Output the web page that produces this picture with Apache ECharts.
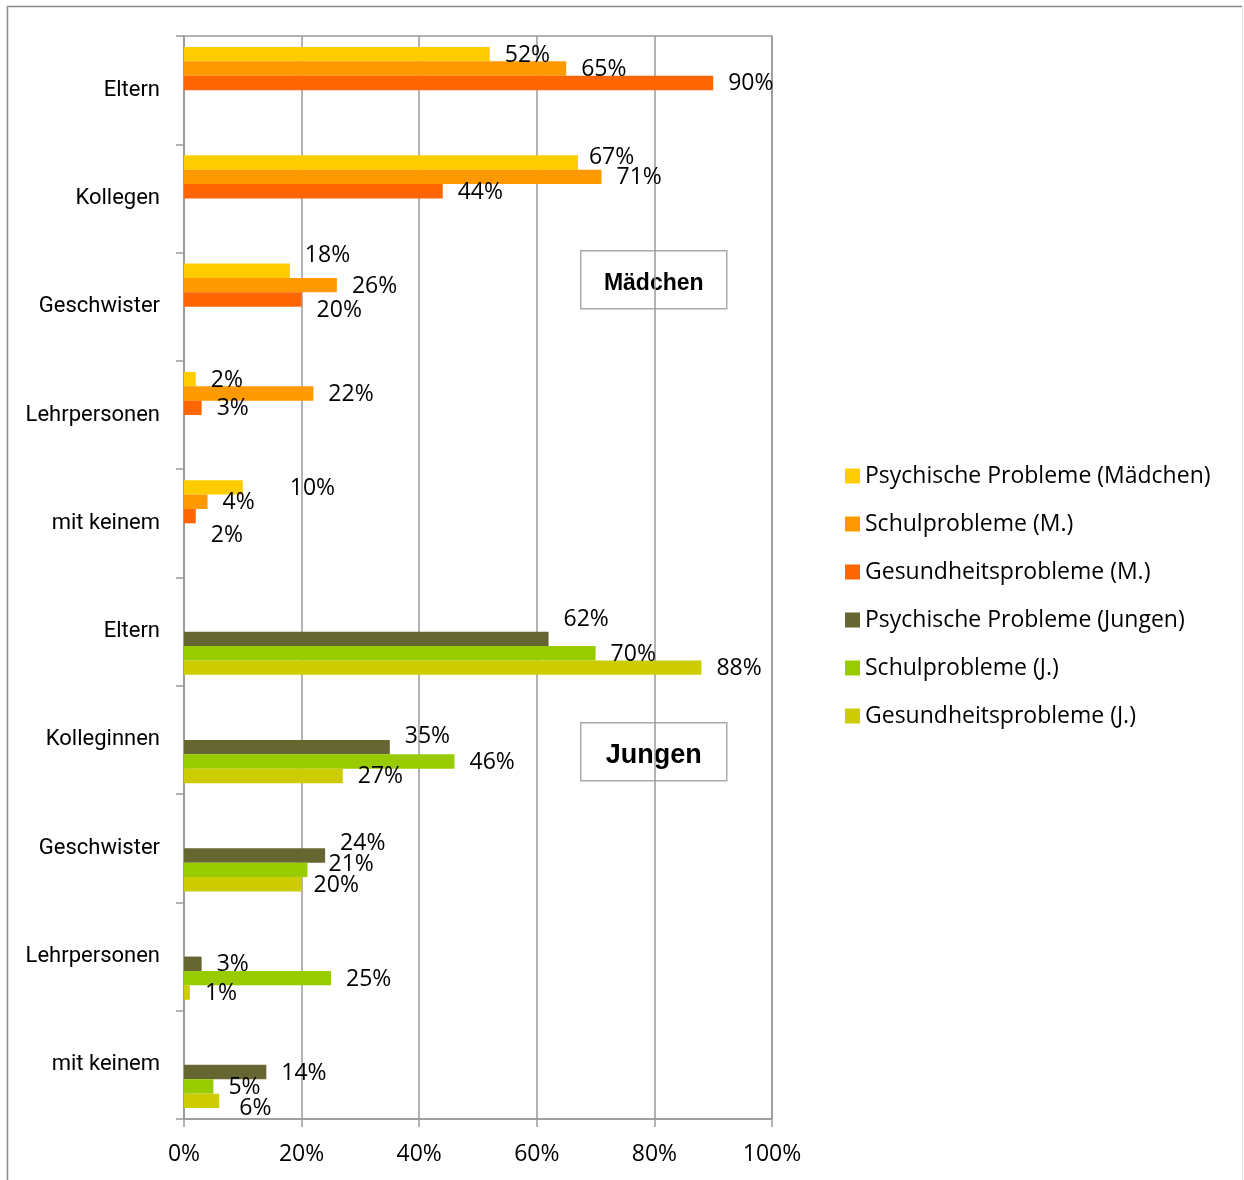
<!DOCTYPE html>
<html>
<head>
<meta charset="utf-8">
<script src="https://cdn.jsdelivr.net/npm/echarts@6/dist/echarts.min.js"></script>
<style>
  html, body { margin: 0; padding: 0; background: #ffffff; }
  #chart { width: 1244px; height: 1180px; }
</style>
</head>
<body>
<div id="chart"></div>
<script>
// Vertrauenspersonen nach Problembereich, getrennt nach Mädchen und Jungen (Angaben in %)
const categories = [
  'Eltern', 'Kollegen', 'Geschwister', 'Lehrpersonen', 'mit keinem',
  'Eltern', 'Kolleginnen', 'Geschwister', 'Lehrpersonen', 'mit keinem'
];

const seriesNames = [
  'Psychische Probleme (Mädchen)',
  'Schulprobleme (M.)',
  'Gesundheitsprobleme (M.)',
  'Psychische Probleme (Jungen)',
  'Schulprobleme (J.)',
  'Gesundheitsprobleme (J.)'
];

// Mädchen: erste fünf Kategorien
const psychischM   = [52, 67, 18, 2, 10, null, null, null, null, null];
const schulM       = [65, 71, 26, 22, 4, null, null, null, null, null];
const gesundheitM  = [90, 44, 20, 3, 2, null, null, null, null, null];
// Jungen: letzte fünf Kategorien
const psychischJ   = [null, null, null, null, null, 62, 35, 24, 3, 14];
const schulJ       = [null, null, null, null, null, 70, 46, 21, 25, 5];
const gesundheitJ  = [null, null, null, null, null, 88, 27, 20, 1, 6];

const xTicks = [0, 20, 40, 60, 80, 100];

const seriesValues = [psychischM, schulM, gesundheitM, psychischJ, schulJ, gesundheitJ];
const seriesColors = ['#FFCC00', '#FF9900', '#FF6600', '#666633', '#99CC00', '#CCCC00'];

// manual label placement where labels were moved apart ([series, index] -> [dx, dy])
const labelNudge = {
  '0:1': [-4, -5],
  '0:2': [0, -15],
  '2:2': [0, 11],
  '0:4': [32, 1],
  '2:4': [0, 19],
  '3:5': [0, -19],
  '3:6': [0, -11],
  '3:7': [0, -12],
  '4:7': [6, -5],
  '5:7': [-3, 1],
  '5:9': [5, 8]
};

const labelFont = '"Open Sans", "Noto Sans", sans-serif';
const catFont = 'Roboto, "Liberation Sans", sans-serif';
const gray = '#9a9a9a';

const series = seriesValues.map((vals, s) => ({
  name: seriesNames[s],
  type: 'bar',
  barWidth: 14.4,
  barGap: '0%',
  itemStyle: { color: seriesColors[s] },
  label: {
    show: true,
    position: 'right',
    distance: 15,
    formatter: '{c}%',
    fontFamily: labelFont,
    fontSize: 23,
    color: '#000000'
  },
  data: vals.map((v, i) => {
    const n = labelNudge[s + ':' + i];
    if (v === null) return null;
    return n ? { value: v, label: { offset: [n[0], n[1]] } } : { value: v, label: { offset: [0, 1] } };
  }),
  z: 3
}));

const chart = echarts.init(document.getElementById('chart'), null, { renderer: 'canvas' });

chart.setOption({
  backgroundColor: '#ffffff',
  animation: false,
  grid: {
    left: 184,
    top: 36,
    width: 588,
    height: 1083,
    show: true,
    borderColor: gray,
    borderWidth: 1.5,
    containLabel: false,
    outerBoundsMode: 'none'
  },
  xAxis: {
    type: 'value',
    min: xTicks[0],
    max: xTicks[xTicks.length - 1],
    interval: 20,
    axisLine: { show: true, lineStyle: { color: gray, width: 1.5 } },
    axisTick: { show: true, length: 8, lineStyle: { color: gray, width: 1.5 } },
    splitLine: { show: true, lineStyle: { color: gray, width: 1.5 } },
    axisLabel: {
      margin: 24,
      formatter: '{value}%',
      fontFamily: labelFont,
      fontSize: 23,
      color: '#000000'
    }
  },
  yAxis: {
    type: 'category',
    inverse: true,
    data: categories.map((c, i) => ({ value: String(i) })),
    axisLine: { show: true, lineStyle: { color: gray, width: 1.5 } },
    axisTick: { show: true, length: 8, alignWithLabel: false, lineStyle: { color: gray, width: 1.5 } },
    splitLine: { show: false },
    axisLabel: {
      margin: 24,
      interval: 0,
      formatter: (v) => categories[Number(v)],
      fontFamily: catFont,
      fontSize: 22,
      padding: [4, 0, 0, 0],
      color: '#000000'
    }
  },
  legend: {
    orient: 'vertical',
    left: 845,
    top: 464,
    padding: 0,
    itemWidth: 15,
    itemHeight: 15,
    itemGap: 24,
    icon: 'rect',
    data: seriesNames,
    textStyle: {
      fontFamily: labelFont,
      fontSize: 23,
      lineHeight: 24,
      color: '#000000'
    }
  },
  graphic: [
    {
      // outer frame: left and top edges
      type: 'polyline',
      shape: { points: [[7.5, 1250], [7.5, 6.5], [1242, 6.5]] },
      style: { fill: null, stroke: '#8c8c8c', lineWidth: 1.5 },
      silent: true,
      z: -1
    },
    {
      // outer frame: right edge
      type: 'line',
      shape: { x1: 1242.5, y1: 6.5, x2: 1242.5, y2: 1250 },
      style: { stroke: '#e4e4e4', lineWidth: 1 },
      silent: true,
      z: -1
    },
    {
      type: 'group',
      left: 580,
      top: 250,
      z: 10,
      children: [
        {
          type: 'rect',
          shape: { x: 0, y: 0, width: 146, height: 58 },
          style: { fill: '#ffffff', stroke: '#ababab', lineWidth: 1.5 }
        },
        {
          type: 'text',
          x: 73, y: 33,
          style: {
            text: 'Mädchen',
            fontFamily: '"Liberation Sans", Arial, sans-serif',
            fontWeight: 'bold',
            fontSize: 23,
            fill: '#000000',
            align: 'center',
            verticalAlign: 'middle'
          }
        }
      ]
    },
    {
      type: 'group',
      left: 580,
      top: 722,
      z: 10,
      children: [
        {
          type: 'rect',
          shape: { x: 0, y: 0, width: 146, height: 58 },
          style: { fill: '#ffffff', stroke: '#ababab', lineWidth: 1.5 }
        },
        {
          type: 'text',
          x: 73, y: 33,
          style: {
            text: 'Jungen',
            fontFamily: '"Liberation Sans", Arial, sans-serif',
            fontWeight: 'bold',
            fontSize: 27,
            fill: '#000000',
            align: 'center',
            verticalAlign: 'middle'
          }
        }
      ]
    }
  ],
  series: series
});
</script>
</body>
</html>
